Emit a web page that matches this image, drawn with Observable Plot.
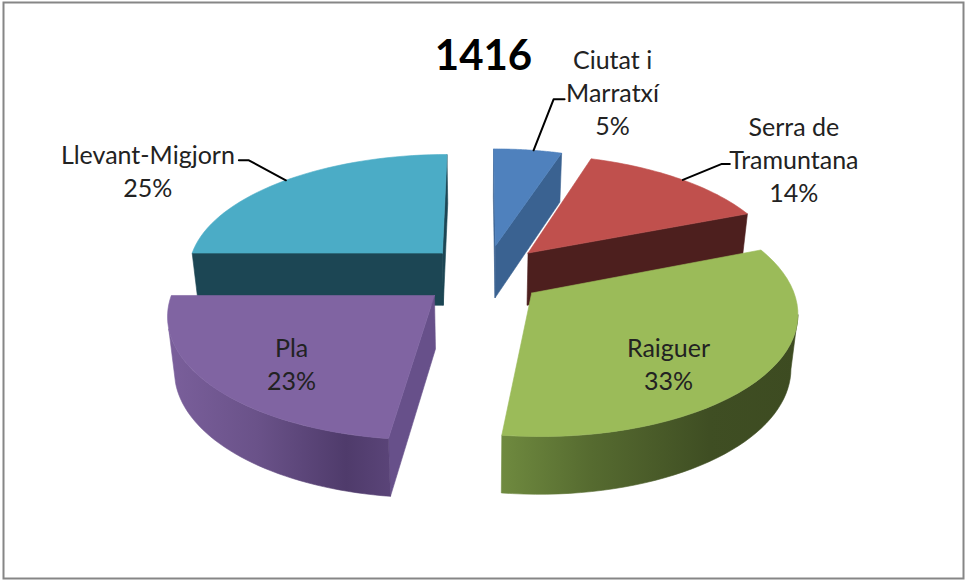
<!DOCTYPE html>
<html><head><meta charset="utf-8">
<style>html,body{margin:0;padding:0;background:#fff}svg{display:block}</style>
<script src="https://cdn.jsdelivr.net/npm/d3@7"></script>
<script src="https://cdn.jsdelivr.net/npm/@observablehq/plot@0.6"></script>
</head><body><div id="chart"></div>
<script>
// ---- data ----
const title = "1416";
const regions = ["Ciutat i\nMarratxí", "Serra de\nTramuntana", "Raiguer", "Pla", "Llevant-Migjorn"];
const shares = [5, 14, 33, 23, 25];

// ---- styles ----
const topColors = ["#4F81BD", "#C0504D", "#9BBB59", "#8064A2", "#4BACC6"];
const faceColors = ["#3A6291", "#4D1F1E", "#5A6E34", "#67508A", "#1C4654"];
const wallColors = ["#3A6291", "#4D1F1E", "url(#wallGreen)", "url(#wallPurple)", "#1C4654"];

// ---- projection of the tilted, exploded disc ----
const cx = 480, cy = 278, Rx = 258, Ry = 119, persp = 0.14, depth = 53, shrink = 0.978;
const burst = [[0.06, 0.285], [0.19, 0.22], [0.195, -0.12], [-0.175, -0.14], [-0.152, 0.22]];
const rad = d => d * Math.PI / 180;
function project(u, v, low) {
  const s = 1 / (1 + persp * v);
  const k = low ? shrink : 1;
  return [cx + Rx * u * s * k, cy - Ry * v * s + (low ? depth * Math.sqrt(s) : 0)];
}
let acc = 0;
const slices = shares.map((p, i) => {
  const a0 = acc * 3.6; acc += p; const a1 = acc * 3.6;
  return {i, a0, a1, mid: (a0 + a1) / 2, e: burst[i]};
});
const rim = (sl, a, low) => project(sl.e[0] + Math.sin(rad(a)), sl.e[1] + Math.cos(rad(a)), low);
const apex = (sl, low) => project(sl.e[0], sl.e[1], low);
const arc = (sl, a0, a1, low) => d3.range(0, 41).map(t => rim(sl, a0 + (a1 - a0) * t / 40, low));
const area = q => d3.sum(q, (p, j) => { const n = q[(j + 1) % q.length]; return p[0] * n[1] - n[0] * p[1]; });

function poly(points, fill) {
  return Plot.line([...points, points[0]], {x: d => d[0], y: d => d[1], fill, stroke: fill, strokeWidth: 0.6, curve: "linear"});
}
function sliceMarks(sl) {
  const out = [];
  const faces = [[sl.a0, -1], [sl.a1, 1]];
  for (const [a, sign] of faces) {
    const q = [apex(sl), rim(sl, a), rim(sl, a, true), apex(sl, true)];
    if (area(q) * sign > 0) out.push(poly(q, faceColors[sl.i]));
  }
  const w0 = Math.max(sl.a0, 100), w1 = Math.min(sl.a1, 255);
  if (w1 > w0) out.push(poly([...arc(sl, w0, w1), ...arc(sl, w0, w1, true).reverse()], wallColors[sl.i]));
  out.push(poly([apex(sl), ...arc(sl, sl.a0, sl.a1)], topColors[sl.i]));
  return out;
}
const drawOrder = [4, 0, 1, 3, 2];

// ---- labels, placed relative to each slice's rim ----
const anchorTurn = [1.5, 1, 0, 0, 0.5];
const labelOffset = [[79, -59], [111, -21], [-2, 20], [-10, 14], [-138, -10]];
const leaderOffset = [[[20, -51], [31, -51]], [[39, -16], [47, -16]], null, null, [[-37, -20], [-47, -20]]];
const labels = slices.map(sl => {
  const inside = !leaderOffset[sl.i];
  const anchor = inside
    ? project(sl.e[0] + 0.62 * Math.sin(rad(sl.mid)), sl.e[1] + 0.62 * Math.cos(rad(sl.mid)))
    : rim(sl, sl.mid + anchorTurn[sl.i]);
  return {anchor, x: anchor[0] + labelOffset[sl.i][0], y: anchor[1] + labelOffset[sl.i][1],
          text: `${regions[sl.i]}\n${shares[sl.i]}%`, i: sl.i};
});
const leaders = labels.filter(l => leaderOffset[l.i]).map(l =>
  [l.anchor, ...leaderOffset[l.i].map(o => [l.anchor[0] + o[0], l.anchor[1] + o[1]])]);

function gradients() {
  const defs = d3.create("svg:defs");
  const add = (id, stops) => {
    const g = defs.append("svg:linearGradient").attr("id", id);
    stops.forEach(([o, c]) => g.append("svg:stop").attr("offset", o).attr("stop-color", c));
  };
  add("wallGreen", [[0, "#6F8A3F"], [0.3, "#566B30"], [0.7, "#3F4E23"], [1, "#3D4B21"]]);
  add("wallPurple", [[0, "#7A5F9B"], [0.4, "#6A5289"], [0.8, "#4F3B6B"], [1, "#5A4478"]]);
  return defs.node();
}

const chart = Plot.plot({
  width: 965, height: 580,
  marginTop: 0, marginRight: 0, marginBottom: 0, marginLeft: 0,
  x: {domain: [0, 965], range: [0, 965], axis: null},
  y: {domain: [0, 580], range: [0, 580], axis: null},
  style: {background: "#fff", fontFamily: "Lato, 'Open Sans', sans-serif"},
  marks: [
    gradients,
    Plot.frame({stroke: "#868686", strokeWidth: 2, insetLeft: 3, insetTop: 2, insetRight: 2, insetBottom: 2}),
    ...drawOrder.flatMap(i => sliceMarks(slices[i])),
    ...leaders.map(pts => Plot.line(pts, {x: d => d[0], y: d => d[1], stroke: "#000", strokeWidth: 2, curve: "linear"})),
    Plot.text(labels, {x: "x", y: "y", text: "text", fontSize: 25, lineHeight: 1.32, fill: "#222", textAnchor: "middle"}),
    Plot.text([title], {x: () => 483, y: () => 56, text: d => d, fontSize: 42, fontWeight: 700, fill: "#000"})
  ]
});
document.getElementById("chart").append(chart);
</script>
</body></html>
